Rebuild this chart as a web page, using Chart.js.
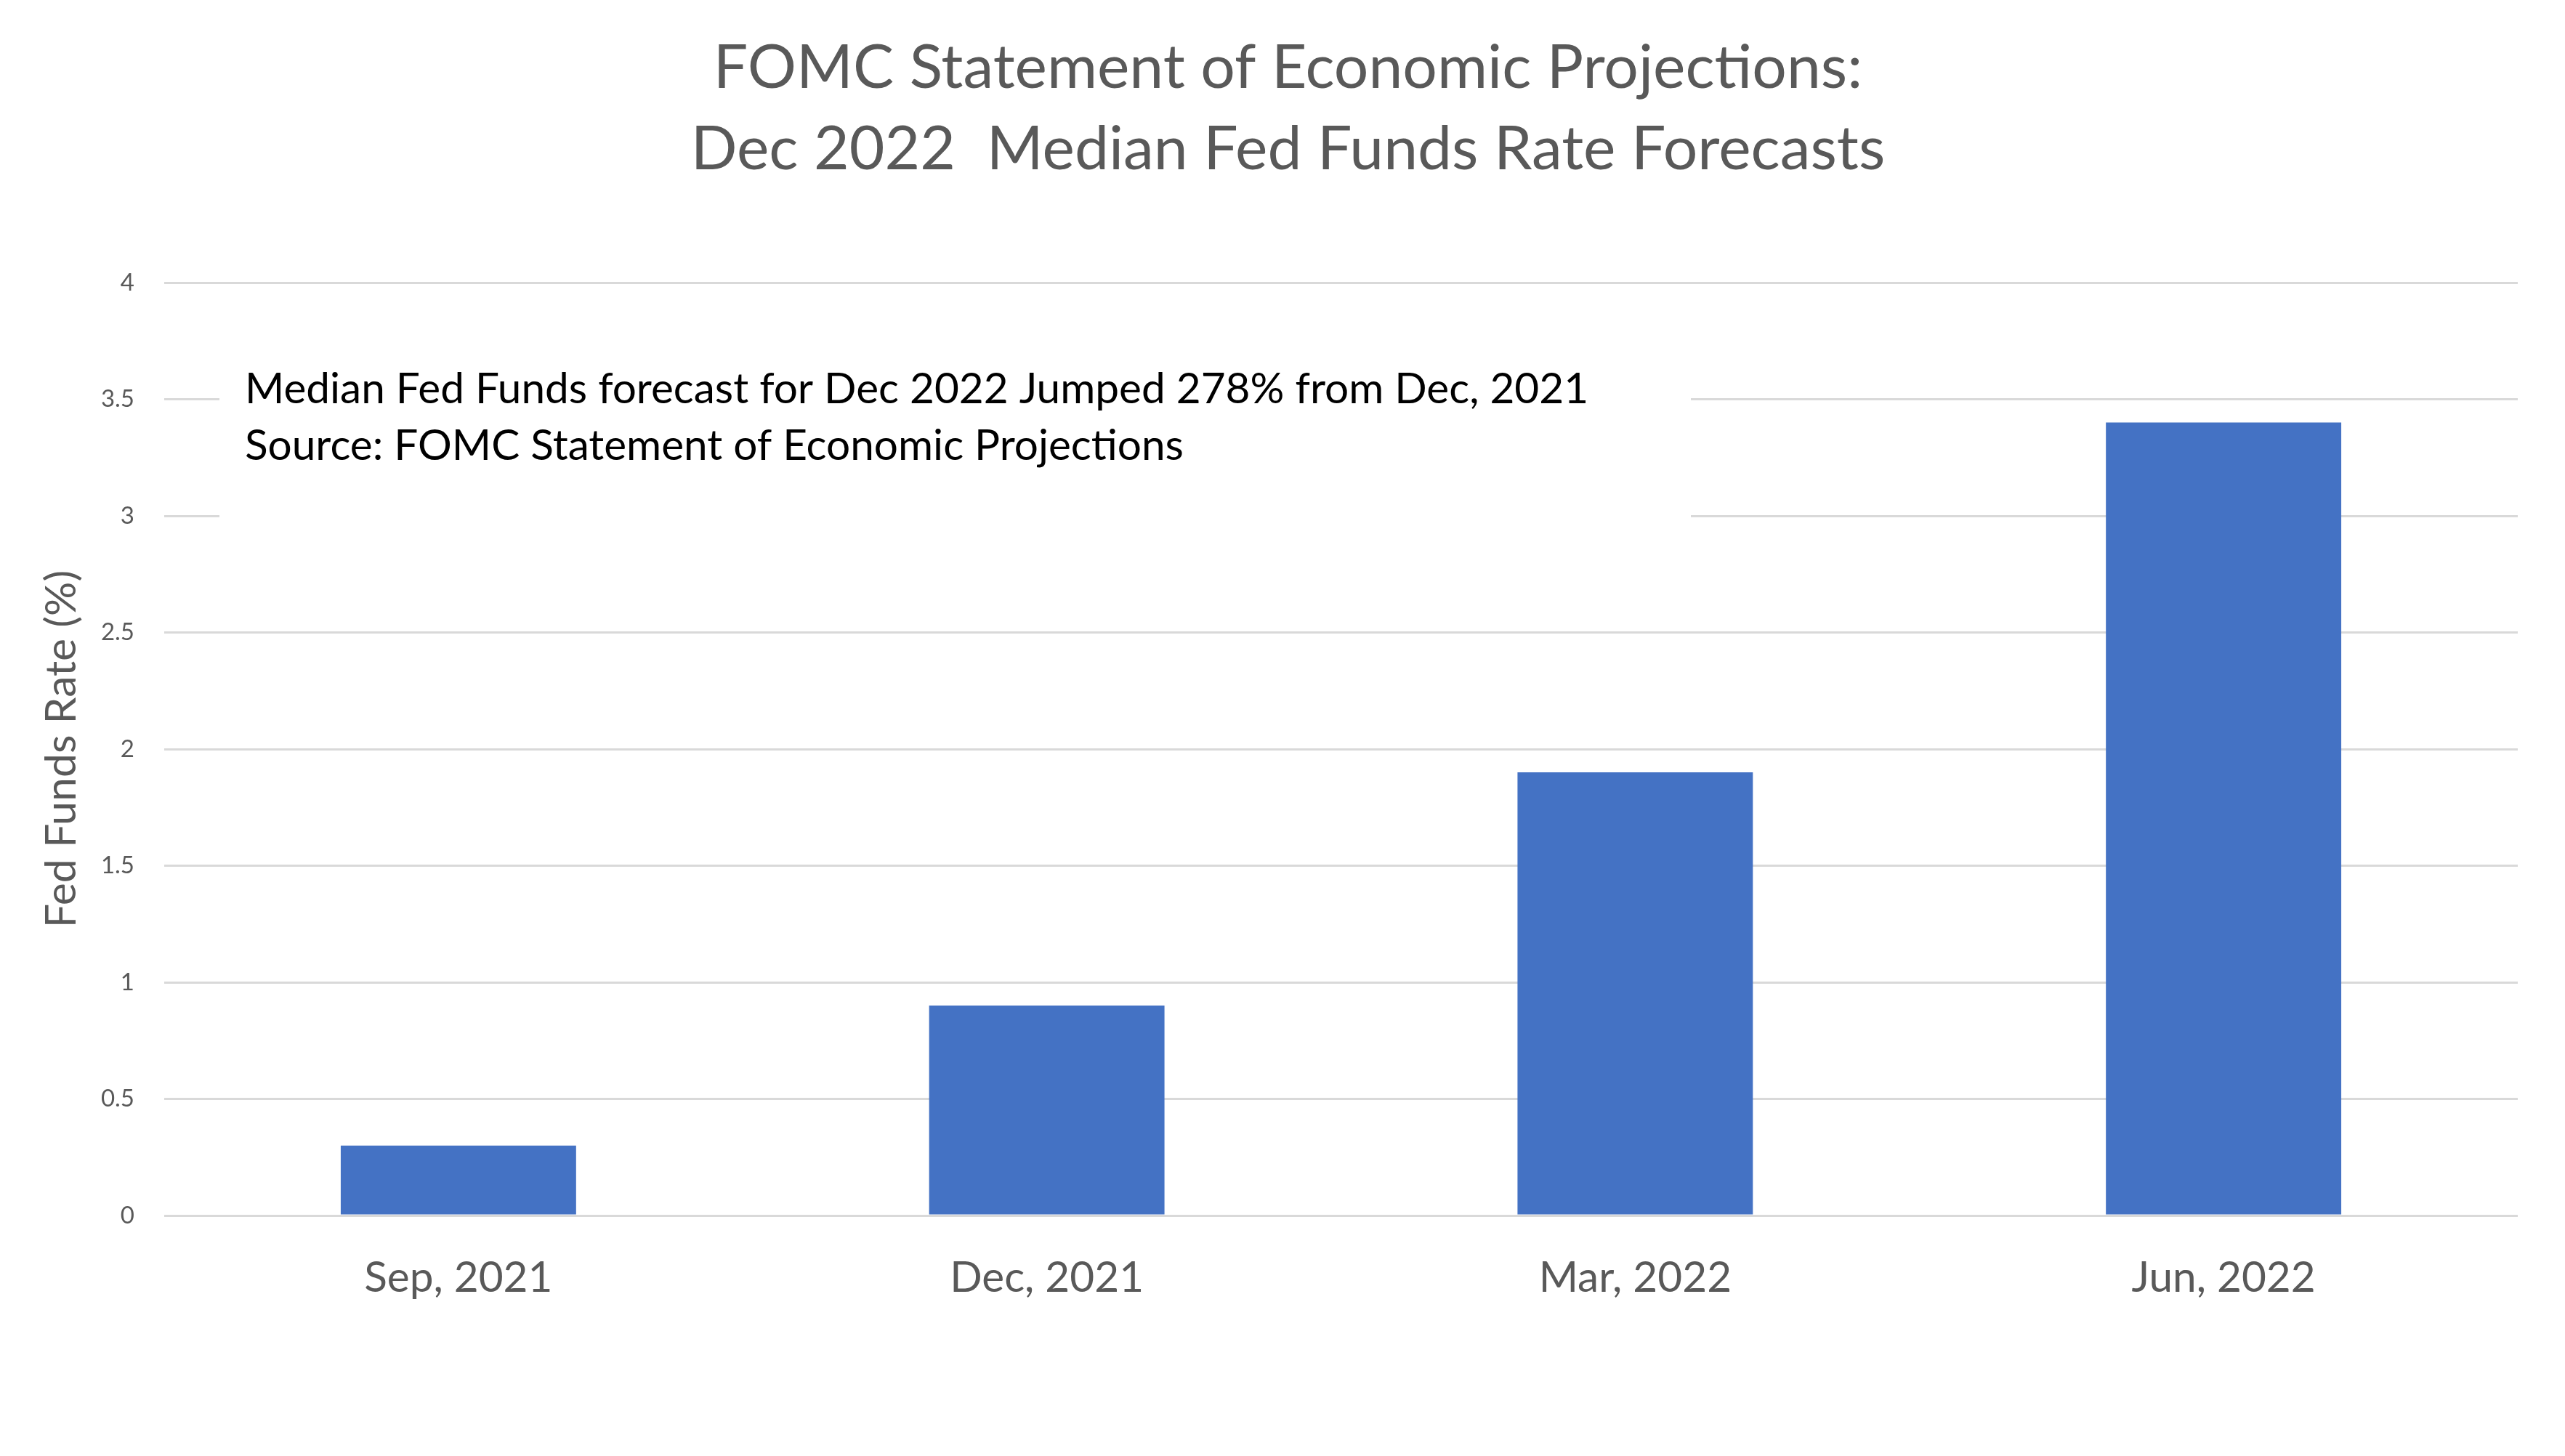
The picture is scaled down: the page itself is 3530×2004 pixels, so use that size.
<!DOCTYPE html>
<html>
<head>
<meta charset="utf-8">
<script src="https://cdn.jsdelivr.net/npm/chart.js@4.4.1/dist/chart.umd.min.js"></script>
<style>
  html, body { margin: 0; padding: 0; background: #ffffff; }
  #c { display: block; }
</style>
</head>
<body>
<canvas id="c" width="3530" height="2004"></canvas>
<script>
// ---- data ----
const categories = ["Sep, 2021", "Dec, 2021", "Mar, 2022", "Jun, 2022"];
const medianRate = [0.3, 0.9, 1.9, 3.4];
const titleLines = ["FOMC Statement of Economic Projections:", "Dec 2022  Median Fed Funds Rate Forecasts"];
const yAxisTitle = "Fed Funds Rate (%)";
const noteLines = [
  "Median Fed Funds forecast for Dec 2022 Jumped 278% from Dec, 2021",
  "Source: FOMC Statement of Economic Projections"
];
const yMin = 0, yMax = 4, yStep = 0.5;

const FONT = "Lato, 'Open Sans', sans-serif";
const GREY = "#595959";

const notePlugin = {
  id: 'note',
  beforeDatasetsDraw(chart) {
    const ctx = chart.ctx;
    ctx.save();
    ctx.fillStyle = '#ffffff';
    ctx.fillRect(302, 440, 2025, 380);
    ctx.fillStyle = '#000000';
    ctx.font = "58.5px " + FONT;
    ctx.textAlign = 'left';
    ctx.textBaseline = 'alphabetic';
    noteLines.forEach((t, i) => ctx.fillText(t, 337, 555 + i * 78));
    ctx.restore();
  }
};

function build() {
  new Chart(document.getElementById('c'), {
    type: 'bar',
    data: {
      labels: categories,
      datasets: [{
        data: medianRate,
        backgroundColor: '#4472C4',
        borderWidth: 0,
        barPercentage: 0.4,
        categoryPercentage: 1.0
      }]
    },
    options: {
      responsive: false,
      devicePixelRatio: 1,
      animation: false,
      layout: { padding: { left: 80, right: 65, top: 0, bottom: 0 } },
      plugins: {
        legend: { display: false },
        tooltip: { enabled: false },
        title: {
          display: true,
          text: titleLines,
          color: GREY,
          font: { family: FONT, size: 84, weight: 'normal', lineHeight: 112 / 84 },
          padding: { top: 38, bottom: 127 }
        }
      },
      scales: {
        x: {
          grid: { display: false },
          border: { display: false },
          ticks: {
            color: GREY,
            font: { family: FONT, size: 58.5 },
            padding: 43,
            maxRotation: 0
          },
          afterFit(scale) { scale.height = 331; }
        },
        y: {
          min: yMin,
          max: yMax,
          border: { display: false },
          grid: { color: '#D9D9D9', lineWidth: 3, drawTicks: false },
          ticks: {
            stepSize: yStep,
            color: GREY,
            font: { family: FONT, size: 33 },
            padding: 41,
            callback: (v) => String(v)
          },
          title: {
            display: true,
            text: yAxisTitle,
            color: GREY,
            font: { family: FONT, size: 59 },
            padding: { top: -30, bottom: 0 }
          },
          afterFit(scale) { scale.width = 146; }
        }
      }
    },
    plugins: [notePlugin]
  });
}

if (document.fonts && document.fonts.load) {
  Promise.all([
    document.fonts.load("84px Lato"),
    document.fonts.load("58px Lato"),
    document.fonts.load("33px Lato")
  ]).then(build, build);
} else {
  build();
}
</script>
</body>
</html>
